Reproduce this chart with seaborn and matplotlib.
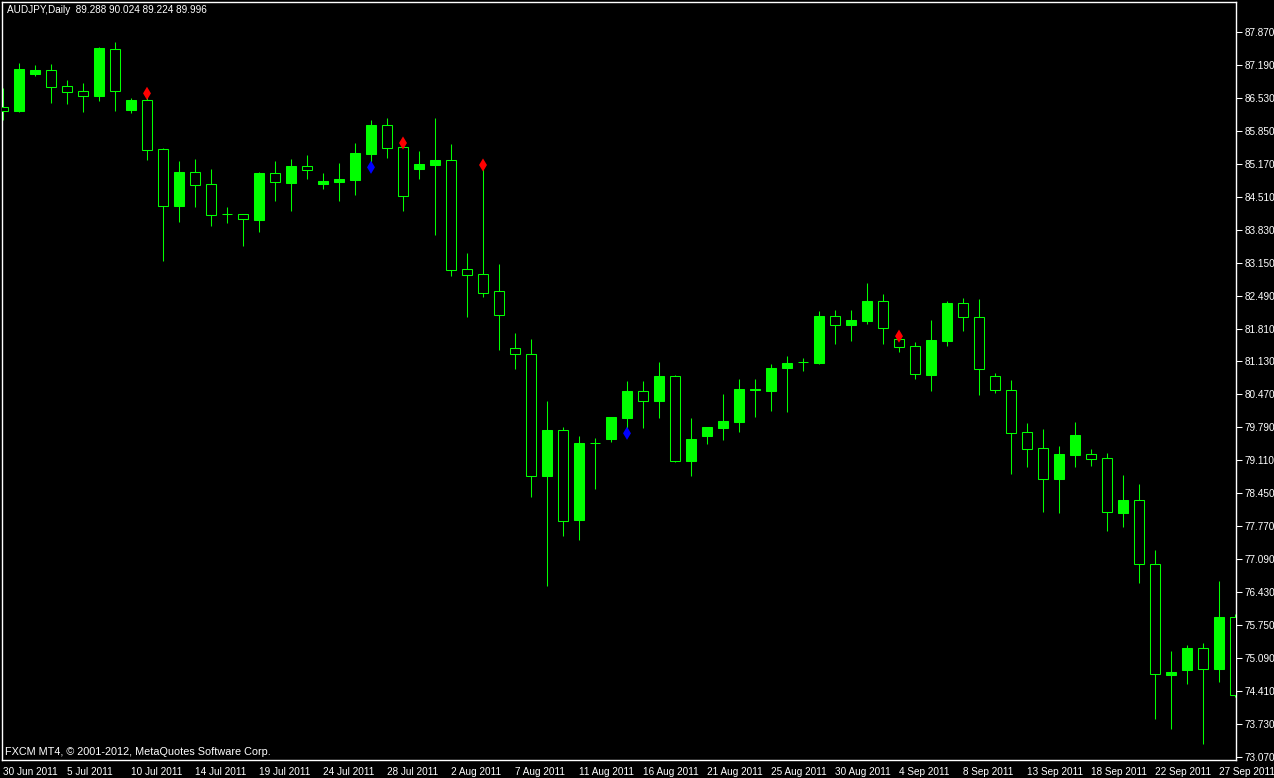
import numpy as np
import pandas as pd
import matplotlib
matplotlib.use("Agg")
import matplotlib.pyplot as plt
import seaborn as sns

# daily AUDJPY bars, 30 Jun 2011 .. 27 Sep 2011
opens = [86.333, 86.257, 87.013, 87.094, 86.768, 86.665, 86.563, 87.517, 86.278, 86.482,
         85.475, 84.317, 85.012, 84.767, 84.150, 84.148, 84.038, 84.991, 84.793, 85.134,
         84.767, 84.807, 84.848, 85.385, 85.971, 85.522, 85.073, 85.155, 85.257, 83.025,
         82.923, 82.576, 81.412, 81.290, 78.811, 79.744, 77.913, 79.479, 79.566, 79.995,
         80.540, 80.342, 80.847, 79.117, 79.628, 79.791, 79.914, 80.551, 80.546, 81.016,
         81.124, 81.118, 82.065, 81.894, 81.976, 82.378, 81.596, 81.459, 80.873, 81.567,
         82.331, 82.045, 80.840, 80.555, 79.697, 79.370, 78.750, 79.240, 79.248, 79.166,
         78.056, 78.309, 77.002, 74.748, 74.850, 75.287, 74.871, 75.926]
highs = [86.721, 87.231, 87.196, 87.217, 86.890, 86.823, 87.558, 87.660, 86.516, 86.549,
         85.496, 85.236, 85.277, 85.073, 84.297, 84.152, 85.012, 85.236, 85.277, 85.359,
         84.991, 85.195, 85.604, 86.073, 86.114, 85.526, 85.440, 86.114, 85.583, 83.358,
         85.087, 83.133, 81.725, 81.602, 80.336, 79.805, 79.622, 79.581, 80.015, 80.745,
         80.745, 81.132, 80.867, 79.989, 79.812, 80.479, 80.785, 80.785, 81.092, 81.255,
         81.214, 82.174, 82.194, 82.194, 82.745, 82.521, 81.602, 81.541, 81.990, 82.378,
         82.439, 82.419, 80.908, 80.765, 79.887, 79.765, 79.417, 79.907, 79.356, 79.274,
         78.825, 78.642, 77.294, 75.232, 75.354, 75.395, 76.661, 75.987]
lows = [86.073, 86.243, 86.978, 86.420, 86.400, 86.237, 86.467, 86.257, 86.222, 85.257,
        83.201, 83.991, 84.297, 83.909, 83.977, 83.507, 83.793, 84.426, 84.222, 84.875,
        84.671, 84.426, 84.542, 85.195, 85.304, 84.222, 84.869, 83.725, 82.894, 82.057,
        82.466, 81.384, 80.996, 78.382, 76.565, 77.586, 77.504, 78.546, 79.505, 79.765,
        79.791, 79.995, 79.097, 78.811, 79.464, 79.546, 79.709, 80.016, 80.138, 80.118,
        80.955, 81.098, 81.506, 81.567, 81.914, 81.506, 81.343, 80.791, 80.546, 81.465,
        81.771, 80.465, 80.506, 78.852, 78.995, 78.076, 78.056, 78.995, 79.015, 77.688,
        77.770, 76.626, 73.850, 73.645, 74.564, 73.339, 74.605, 74.299]
closes = [86.263, 87.115, 87.094, 86.753, 86.651, 86.569, 87.543, 86.672, 86.482, 85.467,
          84.324, 85.012, 84.752, 84.140, 84.146, 84.046, 84.991, 84.801, 85.134, 85.059,
          84.828, 84.869, 85.400, 85.971, 85.508, 84.528, 85.175, 85.257, 83.017, 82.915,
          82.547, 82.098, 81.290, 78.811, 79.744, 77.892, 79.479, 79.475, 80.010, 80.540,
          80.342, 80.847, 79.117, 79.560, 79.805, 79.928, 80.581, 80.581, 81.010, 81.112,
          81.128, 82.072, 81.894, 81.990, 82.378, 81.820, 81.433, 80.881, 81.582, 82.337,
          82.045, 80.996, 80.555, 79.689, 79.362, 78.750, 79.254, 79.642, 79.158, 78.064,
          78.315, 77.002, 74.756, 74.803, 75.293, 74.871, 75.926, 74.340]

# indicator arrows (bar index, price)
red_idx = [9, 25, 30, 56]
red_price = [86.618, 85.604, 85.155, 81.660]
blue_idx = [23, 39]
blue_price = [85.108, 79.677]

date_labels = ["30 Jun 2011", "5 Jul 2011", "10 Jul 2011", "14 Jul 2011", "19 Jul 2011",
               "24 Jul 2011", "28 Jul 2011", "2 Aug 2011", "7 Aug 2011", "11 Aug 2011",
               "16 Aug 2011", "21 Aug 2011", "25 Aug 2011", "30 Aug 2011", "4 Sep 2011",
               "8 Sep 2011", "13 Sep 2011", "18 Sep 2011", "22 Sep 2011", "27 Sep 2011"]
price_labels = ["73.070", "73.730", "74.410", "75.090", "75.750", "76.430", "77.090",
                "77.770", "78.450", "79.110", "79.790", "80.470", "81.130", "81.810",
                "82.490", "83.150", "83.830", "84.510", "85.170", "85.850", "86.530",
                "87.190", "87.870"]

sns.set_theme(style="dark", rc={"figure.facecolor": "black", "axes.facecolor": "black",
                                "axes.edgecolor": "white", "text.color": "white",
                                "xtick.color": "white", "ytick.color": "white"})
plt.rcParams['font.family'] = ['Liberation Sans', 'DejaVu Sans']

df = pd.DataFrame({"o": opens, "h": highs, "l": lows, "c": closes})
df["x"] = np.arange(len(df))
bull = df["c"] >= df["o"]

LIME = "#00ff00"
lw = 0.75

fig = plt.figure(figsize=(12.74, 7.78), dpi=100)
ax = fig.add_axes([2 / 1274, 18 / 778, 1234 / 1274, 758 / 778])

ax.vlines(df["x"], df["l"], df["h"], color=LIME, linewidth=lw, zorder=2)
bottoms = np.minimum(df["o"], df["c"])
heights = np.abs(df["c"] - df["o"])
ax.bar(df["x"], heights, bottom=bottoms, width=0.64,
       color=np.where(bull, LIME, "black"), edgecolor=LIME, linewidth=lw, zorder=3)

marks = pd.DataFrame({"x": red_idx + blue_idx, "p": red_price + blue_price,
                      "kind": ["up"] * len(red_idx) + ["dn"] * len(blue_idx)})
sns.scatterplot(data=marks, x="x", y="p", hue="kind", palette={"up": "red", "dn": "blue"},
                marker="d", s=45, linewidth=0, legend=False, ax=ax, zorder=4)

ax.set_xlim(-0.0625, 77.0625)
ax.set_ylim(73.006, 88.483)

ax.yaxis.tick_right()
ax.set_yticks(np.linspace(73.07, 87.87, len(price_labels)))
ax.set_yticklabels(price_labels)
ax.set_xticks(np.arange(0, 4 * len(date_labels), 4))
ax.set_xticklabels(date_labels, ha="left")
ax.tick_params(axis="both", direction="out", length=4, width=0.75, color="white",
               labelsize=7.2, labelcolor="white", pad=1)
ax.tick_params(axis="y", pad=2)
ax.set_xlabel("")
ax.set_ylabel("")
ax.grid(False)
for sp in ax.spines.values():
    sp.set_color("white")
    sp.set_linewidth(1)

fig.text(7 / 1274, 1 - 10 / 778, "AUDJPY,Daily  89.288 90.024 89.224 89.996",
         fontsize=7.2, color="white", va="center", ha="left")
fig.text(5 / 1274, 1 - 752 / 778, "FXCM MT4, \u00a9 2001-2012, MetaQuotes Software Corp.",
         fontsize=7.8, color="white", va="center", ha="left")

fig.savefig("out.png", dpi=100, facecolor="black")
